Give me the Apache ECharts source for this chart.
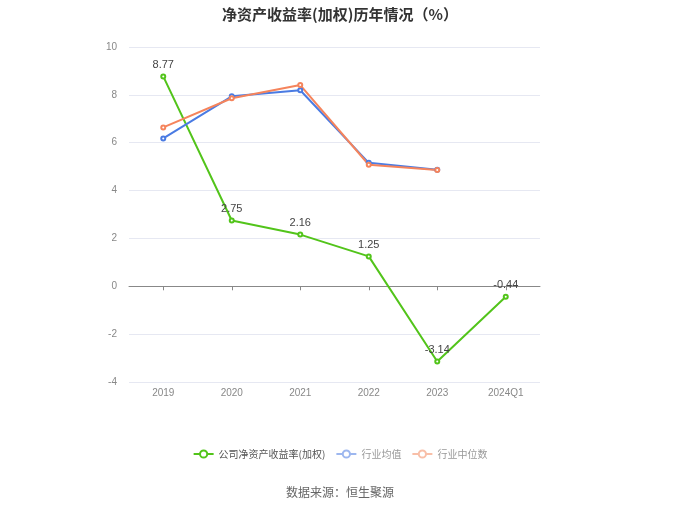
<!DOCTYPE html>
<html><head><meta charset="utf-8">
<script src="https://cdn.jsdelivr.net/npm/echarts@6/dist/echarts.min.js"></script>
<style>html,body{margin:0;padding:0;background:#fff}#c{width:680px;height:509px}</style>
</head><body><div id="c"></div>
<script>
var categories = ['2019','2020','2021','2022','2023','2024Q1'];
var companyRoe = [8.77, 2.75, 2.16, 1.25, -3.14, -0.44];
var industryAvg = [6.18, 7.94, 8.19, 5.16, 4.87, null];
var industryMedian = [6.64, 7.86, 8.41, 5.08, 4.86, null];
var yTicks = {min: -4, max: 10, interval: 2};
var names = ['公司净资产收益率(加权)', '行业均值', '行业中位数'];

var chart = echarts.init(document.getElementById('c'));
chart.setOption({
  backgroundColor: '#fff',
  animation: false,
  title: {
    text: '净资产收益率(加权)历年情况（%）',
    left: 'center', top: 2,
    textStyle: {fontSize: 15, fontWeight: 'bold', color: '#333', fontFamily: 'Noto Sans CJK SC'}
  },
  legend: {
    bottom: 45, left: 'center', itemWidth: 20, itemHeight: 9, itemGap: 10,
    textStyle: {fontSize: 10, color: '#555', fontFamily: 'Noto Sans CJK SC'},
    data: [
      {name: names[0]},
      {name: names[1], itemStyle: {color: '#9db7ef'}, lineStyle: {color: '#9db7ef'}, textStyle: {color: '#999'}},
      {name: names[2], itemStyle: {color: '#f8bfa8'}, lineStyle: {color: '#f8bfa8'}, textStyle: {color: '#999'}}
    ]
  },
  graphic: [{
    type: 'text', left: 'center', top: 486,
    style: {text: '数据来源：恒生聚源', fill: '#666', fontSize: 12, fontFamily: 'Noto Sans CJK SC'}
  }],
  grid: {left: 129, right: 140, top: 47, bottom: 127},
  xAxis: [{
    type: 'category', data: categories, position: 'bottom',
    axisLine: {show: false, onZero: false}, axisTick: {show: false},
    axisLabel: {color: '#888', fontSize: 10, margin: 6}
  }, {
    type: 'category', data: categories, position: 'bottom',
    axisLine: {show: true, onZero: true, lineStyle: {color: '#888'}},
    axisTick: {show: true, alignWithLabel: true, length: 4, lineStyle: {color: '#888'}},
    axisLabel: {show: false}
  }],
  yAxis: {
    type: 'value', min: yTicks.min, max: yTicks.max, interval: yTicks.interval,
    axisLine: {show: false}, axisTick: {show: false},
    axisLabel: {color: '#888', fontSize: 10, margin: 12},
    splitLine: {lineStyle: {color: '#e6e8f2'}}
  },
  series: [{
    name: names[0], type: 'line', data: companyRoe, xAxisIndex: 0,
    symbol: 'emptyCircle', symbolSize: 4,
    itemStyle: {color: '#52c41a'}, lineStyle: {width: 2, color: '#52c41a'},
    label: {show: true, position: 'top', color: '#444', fontSize: 11, distance: 3},
    z: 3
  }, {
    name: names[1], type: 'line', data: industryAvg, xAxisIndex: 0,
    symbol: 'emptyCircle', symbolSize: 4,
    itemStyle: {color: '#4a7be3'}, lineStyle: {width: 2, color: '#4a7be3'}
  }, {
    name: names[2], type: 'line', data: industryMedian, xAxisIndex: 0,
    symbol: 'emptyCircle', symbolSize: 4,
    itemStyle: {color: '#f5845c'}, lineStyle: {width: 2, color: '#f5845c'}
  }]
});
</script></body></html>
